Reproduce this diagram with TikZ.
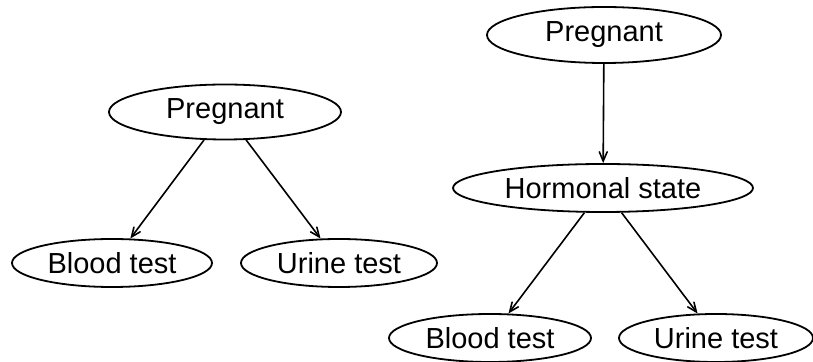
\documentclass[tikz,border=0pt]{standalone}
\usepackage{fontspec}
\setmainfont{Liberation Sans}
\usepackage{tikz}
\usetikzlibrary{arrows,shapes.geometric}

\tikzset{
    var/.style={draw=black,ellipse,line width=0.9pt,inner sep=0pt,
        font=\fontsize{14.5}{16}\selectfont},
}

\begin{document}
\begin{tikzpicture}[x=0.5pt,y=-0.5pt]
\useasboundingbox (0,0) rectangle (813,362);
\begin{scope}[>=angle 45,line width=0.8pt]

    % left: pregnant -> tests
    \node[var,minimum width=116pt,minimum height=27.5pt] (pregL) at (225,112) {Pregnant};
    \node[var,minimum width=100pt,minimum height=24pt] (bloodL) at (112,263) {Blood test};
    \node[var,minimum width=98pt,minimum height=24pt] (urineL) at (339,263) {Urine test};

    \draw[->] (pregL) -- (bloodL);
    \draw[->] (pregL) -- (urineL);

    % right: pregnant -> hormonal state -> tests
    \node[var,minimum width=117pt,minimum height=28pt] (pregR) at (604,35) {Pregnant};
    \node[var,minimum width=150pt,minimum height=24pt] (horm) at (603,188) {Hormonal state};
    \node[var,minimum width=101pt,minimum height=24pt] (bloodR) at (490,338) {Blood test};
    \node[var,minimum width=97pt,minimum height=24pt] (urineR) at (716,338) {Urine test};

    \draw[->] (pregR) -- (horm);
    \draw[->] (horm) -- (bloodR);
    \draw[->] (horm) -- (urineR);

\end{scope}
\end{tikzpicture}
\end{document}
